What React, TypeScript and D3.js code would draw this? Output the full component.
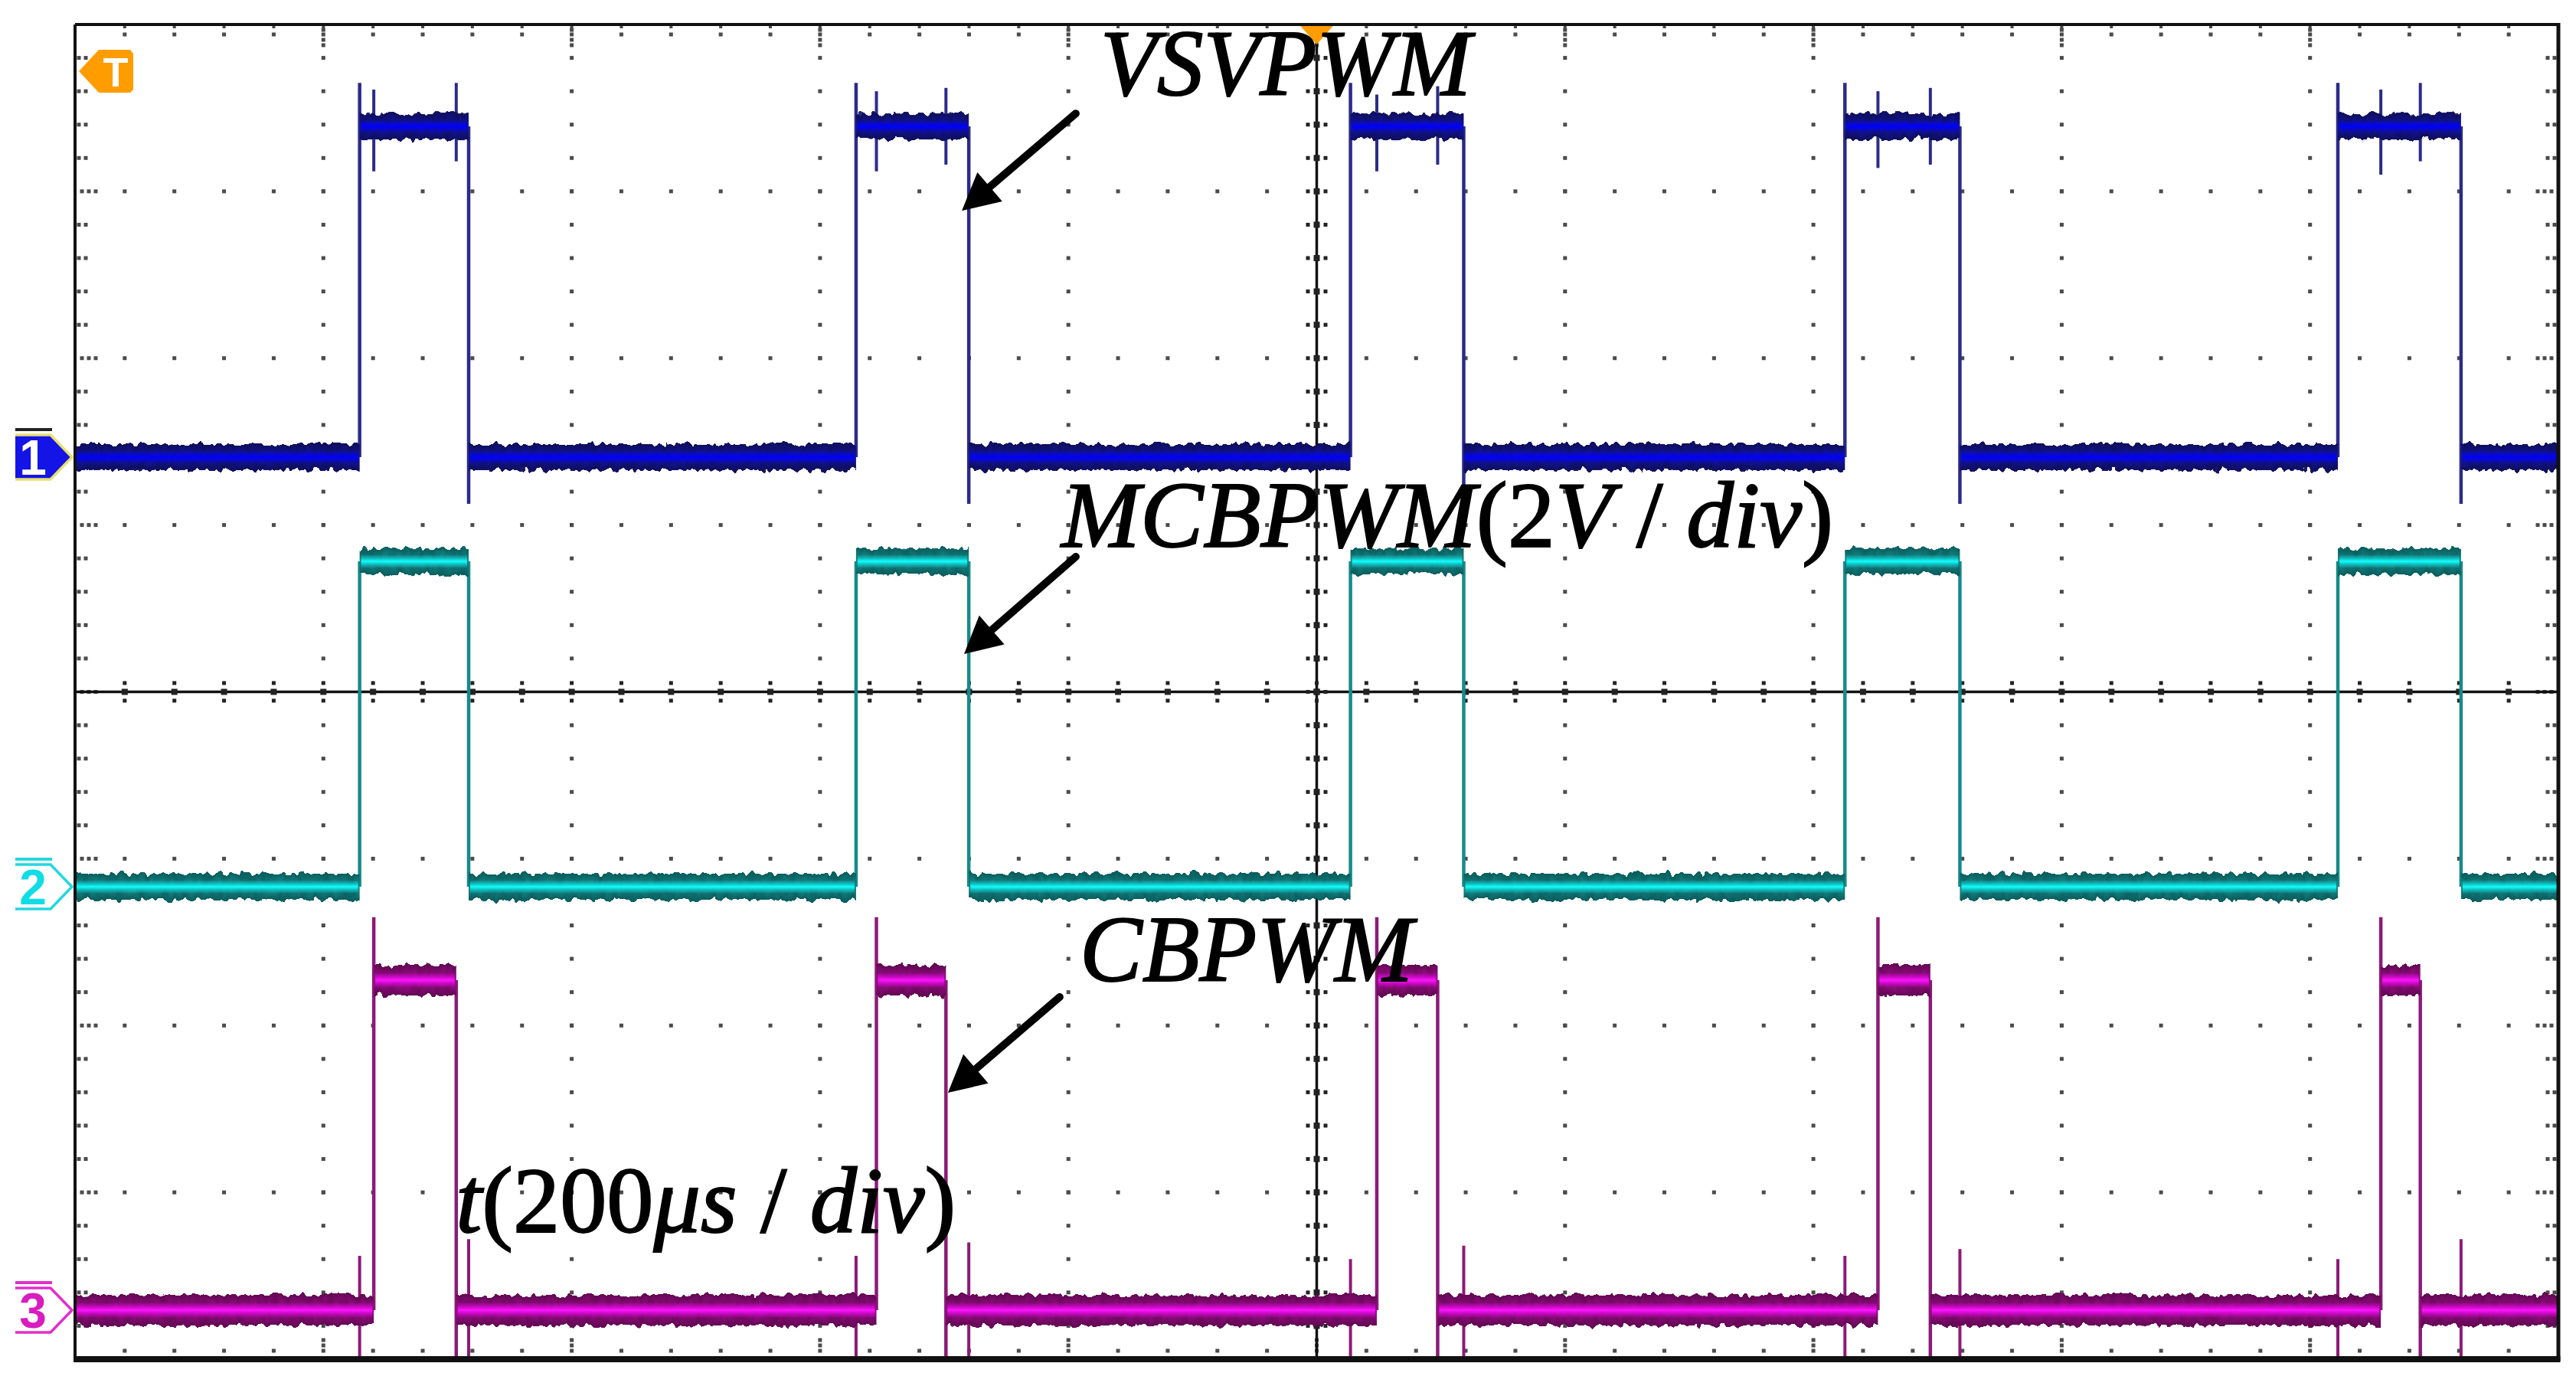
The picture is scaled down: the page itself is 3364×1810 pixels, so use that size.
import React from "react";
import * as d3 from "d3";

// ---------- axes (oscilloscope divisions) ----------
const timeDomain = [0, 10]; // 10 div x 200 µs
const voltDomain = [-4, 4]; // 8 div x 2 V
const majorX = [0, 1, 2, 3, 4, 5, 6, 7, 8, 9, 10];
const majorY = [-4, -3, -2, -1, 0, 1, 2, 3, 4];
const minorPerDiv = 5;

// ---------- channel 1 : VSVPWM ----------
const ch1Rise = [1.146, 3.145, 5.136, 7.127, 9.112];
const ch1Fall = [1.585, 3.599, 5.592, 7.59, 9.608];
const ch1Low = 1.407;
const ch1High = 3.389;
const ch1RiseTop = 3.65;
const ch1FallBottom = 1.127;
const ch1SpikeT = [1.203, 1.535, 3.227, 3.507, 5.242, 5.487, 7.26, 7.471, 9.285, 9.444];
const ch1SpikeLo = [3.12, 3.18, 3.12, 3.16, 3.12, 3.16, 3.14, 3.16, 3.1, 3.18];
const ch1SpikeHi = [3.61, 3.65, 3.6, 3.62, 3.58, 3.63, 3.6, 3.62, 3.61, 3.65];

// ---------- channel 2 : MCBPWM ----------
const ch2Rise = [1.146, 3.145, 5.136, 7.127, 9.112];
const ch2Fall = [1.585, 3.599, 5.592, 7.59, 9.608];
const ch2Low = -1.168;
const ch2High = 0.782;

// ---------- channel 3 : CBPWM ----------
const ch3Rise = [1.203, 3.227, 5.242, 7.26, 9.285];
const ch3Fall = [1.535, 3.507, 5.487, 7.471, 9.444];
const ch3Low = -3.706;
const ch3High = -1.728;
const ch3RiseTop = -1.35;
const ch3FallBottom = -4;
const ch3SpikeT = [1.146, 1.585, 3.145, 3.599, 5.136, 5.592, 7.127, 7.59, 9.112, 9.608];
const ch3SpikeLo = [-4, -4, -4, -4, -4, -4, -4, -4, -4, -4];
const ch3SpikeHi = [-3.38, -3.28, -3.38, -3.3, -3.4, -3.32, -3.38, -3.34, -3.4, -3.28];

// ---------- labels ----------
const labelCh1 = "VSVPWM";
const labelCh2 = "MCBPWM";
const labelScaleV = "2";
const labelCh3 = "CBPWM";
const labelTime = "200";

const W = 3364;
const H = 1810;
const L = 98;
const R = 3341;
const T = 32;
const B = 1775;

const x = d3.scaleLinear().domain(timeDomain).range([L, R]);
const y = d3.scaleLinear().domain(voltDomain).range([B, T]);

type Seg = { a: number; b: number; v: number };
function segments(rise: number[], fall: number[], lo: number, hi: number): Seg[] {
  const s: Seg[] = [];
  let prev = timeDomain[0];
  rise.forEach((r, i) => {
    s.push({ a: prev, b: r, v: lo });
    s.push({ a: r, b: fall[i], v: hi });
    prev = fall[i];
  });
  s.push({ a: prev, b: timeDomain[1], v: lo });
  return s;
}

const channels = [
  {
    id: "c2",
    segs: segments(ch2Rise, ch2Fall, ch2Low, ch2High),
    edges: [
      ...ch2Rise.map((t) => ({ t, lo: ch2Low, hi: ch2High })),
      ...ch2Fall.map((t) => ({ t, lo: ch2Low, hi: ch2High })),
    ],
    spikes: [] as { t: number; lo: number; hi: number }[],
    hw: 17,
    core: 8,
    dark: "#0a5c5c",
    mid: "#158a8a",
    coreEdge: "#12c4c4",
    coreMid: "#10ffff",
    line: "#178a8a",
  },
  {
    id: "c1",
    segs: segments(ch1Rise, ch1Fall, ch1Low, ch1High),
    edges: [
      ...ch1Rise.map((t) => ({ t, lo: ch1Low, hi: ch1RiseTop })),
      ...ch1Fall.map((t) => ({ t, lo: ch1FallBottom, hi: ch1High })),
    ],
    spikes: ch1SpikeT.map((t, i) => ({ t, lo: ch1SpikeLo[i], hi: ch1SpikeHi[i] })),
    hw: 17,
    core: 8,
    dark: "#0e0e5c",
    mid: "#14149a",
    coreEdge: "#0808c8",
    coreMid: "#0000ff",
    line: "#2b2b8a",
  },
  {
    id: "c3",
    segs: segments(ch3Rise, ch3Fall, ch3Low, ch3High),
    edges: [
      ...ch3Rise.map((t) => ({ t, lo: ch3Low, hi: ch3RiseTop })),
      ...ch3Fall.map((t) => ({ t, lo: ch3FallBottom, hi: ch3High })),
    ],
    spikes: ch3SpikeT.map((t, i) => ({ t, lo: ch3SpikeLo[i], hi: ch3SpikeHi[i] })),
    hw: 20,
    core: 9,
    dark: "#620852",
    mid: "#9c0e8c",
    coreEdge: "#d000d0",
    coreMid: "#ff14ff",
    line: "#8c1a78",
  },
];

const minorX = d3.range(0, (timeDomain[1] - timeDomain[0]) * minorPerDiv + 1).map((i) => timeDomain[0] + i / minorPerDiv);
const minorY = d3.range(0, (voltDomain[1] - voltDomain[0]) * minorPerDiv + 1).map((i) => voltDomain[0] + i / minorPerDiv);
const isMajor = (v: number) => Math.abs(v - Math.round(v)) < 1e-6;

const DOT = "#4b4b4b";

function Arrow({ t0, v0, t1, v1 }: { t0: number; v0: number; t1: number; v1: number }) {
  const xa = x(t0), ya = y(v0), xb = x(t1), yb = y(v1);
  const dx = xb - xa, dy = yb - ya;
  const len = Math.hypot(dx, dy);
  const ux = dx / len, uy = dy / len;
  const headL = 48, headW = 25;
  const bx = xb - ux * headL, by = yb - uy * headL;
  const px = -uy, py = ux;
  return (
    <g>
      <line x1={xa} y1={ya} x2={bx + ux * 4} y2={by + uy * 4} stroke="#000" strokeWidth={10} strokeLinecap="round" />
      <polygon
        points={`${xb},${yb} ${bx + px * headW},${by + py * headW} ${bx - px * headW},${by - py * headW}`}
        fill="#000"
      />
    </g>
  );
}

function ChannelMarker({ v, n, fill, stroke, text, top }: { v: number; n: string; fill: string; stroke: string; text: string; top: string }) {
  const yc = y(v);
  const x0 = 20, x1 = 66, x2 = 94, h = 29;
  const d = `M${x0},${yc - h} L${x1},${yc - h} L${x2},${yc} L${x1},${yc + h} L${x0},${yc + h}`;
  return (
    <g>
      <line x1={x0} x2={x1 + 2} y1={yc - h - 7} y2={yc - h - 7} stroke={top} strokeWidth={4} />
      {fill !== "none" && <path d={d + " Z"} fill={fill} />}
      <path d={d} fill="none" stroke={stroke} strokeWidth={3.5} strokeLinejoin="round" />
      <text
        x={43}
        y={yc + 23}
        textAnchor="middle"
        fontFamily="'Liberation Sans', Arial, sans-serif"
        fontWeight="bold"
        fontSize={64}
        fill={text}
      >
        {n}
      </text>
    </g>
  );
}

export default function App() {
  const serif = "'Liberation Serif', 'Times New Roman', serif";
  return (
    <svg
      width={W}
      height={H}
      viewBox={`0 0 ${W} ${H}`}
      style={{ position: "absolute", left: 0, top: 0, display: "block" }}
    >
      <defs>
        <filter id="jag" x="-2%" y="-20%" width="104%" height="140%" colorInterpolationFilters="sRGB">
          <feTurbulence type="fractalNoise" baseFrequency="0.11 0.07" numOctaves={2} seed={7} result="n" />
          <feColorMatrix in="n" type="matrix" values="0 0 0 0 0.5  0 1 0 0 0  0 0 1 0 0  0 0 0 0 1" result="m" />
          <feDisplacementMap in="SourceGraphic" in2="m" scale={13} xChannelSelector="R" yChannelSelector="G" />
        </filter>
        {channels.map((c) => (
          <React.Fragment key={c.id}>
            <linearGradient id={`outer-${c.id}`} x1="0" y1="0" x2="0" y2="1">
              <stop offset="0" stopColor={c.dark} />
              <stop offset="0.5" stopColor={c.mid} />
              <stop offset="1" stopColor={c.dark} />
            </linearGradient>
            <linearGradient id={`core-${c.id}`} x1="0" y1="0" x2="0" y2="1">
              <stop offset="0" stopColor={c.coreEdge} stopOpacity={0.2} />
              <stop offset="0.5" stopColor={c.coreMid} />
              <stop offset="1" stopColor={c.coreEdge} stopOpacity={0.2} />
            </linearGradient>
          </React.Fragment>
        ))}
      </defs>

      <rect x={0} y={0} width={W} height={H} fill="#fff" />

      {/* dotted major grid */}
      <g fill={DOT}>
        {majorX
          .filter((t) => t > timeDomain[0] && t < timeDomain[1] && t !== 5)
          .map((t) =>
            minorY
              .filter((v) => v > voltDomain[0] && v < voltDomain[1])
              .map((v) => <rect key={`vx${t}_${v}`} x={x(t) - 2.5} y={y(v) - 2.5} width={5} height={5} />)
          )}
        {majorY
          .filter((v) => v > voltDomain[0] && v < voltDomain[1] && v !== 0)
          .map((v) =>
            minorX
              .filter((t) => t > timeDomain[0] && t < timeDomain[1])
              .map((t) => <rect key={`hy${v}_${t}`} x={x(t) - 2.5} y={y(v) - 2.5} width={5} height={5} />)
          )}
        {/* border ticks */}
        {minorY
          .filter((v) => v > voltDomain[0] && v < voltDomain[1])
          .map((v) => {
            const offs = isMajor(v) ? [9, 18, 27] : [5, 14];
            return (
              <g key={`bt${v}`}>
                {offs.map((o) => (
                  <rect key={`l${o}`} x={L + o - 2.5} y={y(v) - 2.5} width={5} height={5} />
                ))}
                {offs.map((o) => (
                  <rect key={`r${o}`} x={R - o - 2.5} y={y(v) - 2.5} width={5} height={5} />
                ))}
              </g>
            );
          })}
        {minorX
          .filter((t) => t > timeDomain[0] && t < timeDomain[1])
          .map((t) => {
            const offsT = isMajor(t) ? [7, 13, 20, 27] : [13];
            const offsB = isMajor(t) ? [11, 18, 25] : [11];
            return (
              <g key={`tb${t}`}>
                <rect x={x(t) - 2} y={T} width={4} height={5} />
                {offsT.map((o) => (
                  <rect key={`t${o}`} x={x(t) - 2.5} y={T + o - 2.5} width={5} height={5} />
                ))}
                {offsB.map((o) => (
                  <rect key={`b${o}`} x={x(t) - 2.5} y={B - o - 2.5} width={5} height={5} />
                ))}
              </g>
            );
          })}
      </g>

      {/* centre crosshair */}
      <g>
        <line x1={x(5)} x2={x(5)} y1={T} y2={B} stroke="#111" strokeWidth={3.5} />
        <line x1={L} x2={R} y1={y(0)} y2={y(0)} stroke="#111" strokeWidth={3.5} />
        <g fill="#222">
          {minorY
            .filter((v) => v > voltDomain[0] && v < voltDomain[1])
            .map((v) => (
              <g key={`cv${v}`}>
                <rect x={x(5) - 14} y={y(v) - 2.5} width={5} height={5} />
                <rect x={x(5) + 9} y={y(v) - 2.5} width={5} height={5} />
                <rect x={x(5) - 4} y={y(v) - 4} width={8} height={8} />
              </g>
            ))}
          {minorX
            .filter((t) => t > timeDomain[0] && t < timeDomain[1])
            .map((t) => (
              <g key={`ch${t}`}>
                <rect x={x(t) - 2.5} y={y(0) - 14} width={5} height={5} />
                <rect x={x(t) - 2.5} y={y(0) + 9} width={5} height={5} />
                <rect x={x(t) - 4} y={y(0) - 4} width={8} height={8} />
              </g>
            ))}
        </g>
      </g>

      {/* traces */}
      {channels.map((c) => (
        <g key={c.id}>
          {c.edges.map((e, i) => (
            <line key={`e${i}`} x1={x(e.t)} x2={x(e.t)} y1={y(e.lo)} y2={y(e.hi)} stroke={c.line} strokeWidth={4.5} />
          ))}
          {c.spikes.map((e, i) => (
            <line key={`s${i}`} x1={x(e.t)} x2={x(e.t)} y1={y(e.lo)} y2={y(e.hi)} stroke={c.line} strokeWidth={4} />
          ))}
          <g filter="url(#jag)">
            {c.segs.map((s, i) => (
              <rect
                key={`o${i}`}
                x={x(s.a)}
                width={x(s.b) - x(s.a)}
                y={y(s.v) - c.hw}
                height={2 * c.hw}
                fill={`url(#outer-${c.id})`}
              />
            ))}
          </g>
          {c.segs.map((s, i) => (
            <rect
              key={`c${i}`}
              x={x(s.a) + 2}
              width={Math.max(0, x(s.b) - x(s.a) - 4)}
              y={y(s.v) - c.core}
              height={2 * c.core}
              fill={`url(#core-${c.id})`}
            />
          ))}
        </g>
      ))}

      {/* frame */}
      <g stroke="#111">
        <line x1={L} x2={R} y1={T} y2={T} strokeWidth={4} />
        <line x1={L} x2={L} y1={T} y2={B} strokeWidth={4} />
        <line x1={R} x2={R} y1={T - 2} y2={B + 2} strokeWidth={5} />
        <line x1={L - 2} x2={R + 2.5} y1={B} y2={B} strokeWidth={8} />
      </g>

      {/* trigger markers */}
      <polygon
        points={`${x(5) - 23},${T} ${x(5) + 23},${T} ${x(5)},${T + 26}`}
        fill="#ff9c00"
      />
      <line x1={x(5) - 25} x2={x(5) + 25} y1={T} y2={T} stroke="#111" strokeWidth={4} />
      <polygon points={`103,93 129,65 170,65 174,70 174,117 170,121 129,121`} fill="#ff9c00" />
      <text x={151} y={113} textAnchor="middle" fontFamily="'Liberation Sans', Arial, sans-serif" fontWeight="bold" fontSize={54} fill="#fff">
        T
      </text>

      {/* channel ground markers */}
      <ChannelMarker v={ch1Low} n="1" fill="#1414e6" stroke="#e6e070" text="#fff" top="#222" />
      <ChannelMarker v={ch2Low} n="2" fill="none" stroke="#22d8e0" text="#10dce6" top="#22d8e0" />
      <ChannelMarker v={ch3Low} n="3" fill="none" stroke="#e030c8" text="#d81cc0" top="#e030c8" />

      {/* annotations */}
      <g fontFamily={serif} fontSize={122} fill="#000" stroke="#000" strokeWidth={2}>
        <text x={x(4.129)} y={y(3.577)} fontStyle="italic" textLength={484} lengthAdjust="spacingAndGlyphs">
          {labelCh1}
        </text>
        <text x={x(3.972)} y={y(0.87)} textLength={1008} lengthAdjust="spacingAndGlyphs">
          <tspan fontStyle="italic">{labelCh2}</tspan>
          <tspan>({labelScaleV}</tspan>
          <tspan fontStyle="italic">V</tspan>
          <tspan> / </tspan>
          <tspan fontStyle="italic">div</tspan>
          <tspan>)</tspan>
        </text>
        <text x={x(4.046)} y={y(-1.732)} fontStyle="italic" textLength={435} lengthAdjust="spacingAndGlyphs">
          {labelCh3}
        </text>
        <text x={x(1.533)} y={y(-3.236)} textLength={653} lengthAdjust="spacingAndGlyphs">
          <tspan fontStyle="italic">t</tspan>
          <tspan>({labelTime}</tspan>
          <tspan fontStyle="italic">μs</tspan>
          <tspan> / </tspan>
          <tspan fontStyle="italic">div</tspan>
          <tspan>)</tspan>
        </text>
      </g>
      <Arrow t0={4.03} v0={3.467} t1={3.571} v1={2.884} />
      <Arrow t0={4.03} v0={0.81} t1={3.58} v1={0.227} />
      <Arrow t0={3.965} v0={-1.829} t1={3.515} v1={-2.403} />
    </svg>
  );
}
